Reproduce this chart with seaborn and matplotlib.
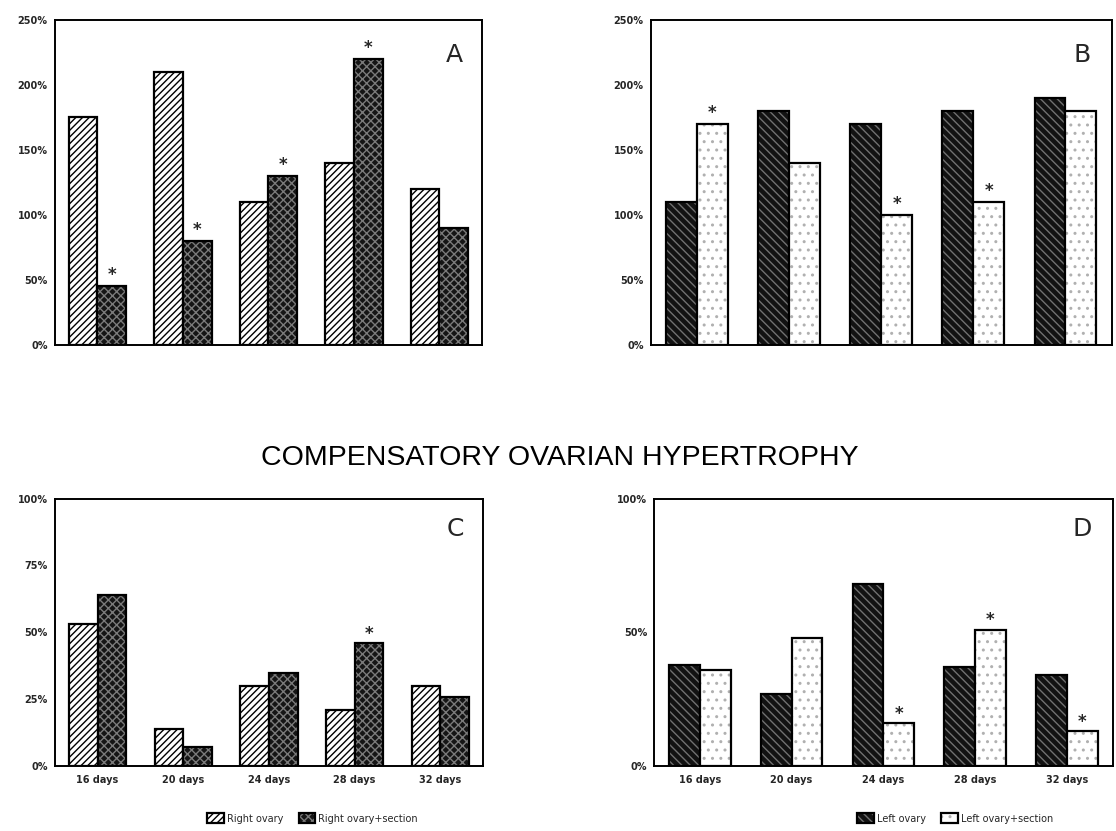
import numpy as np
import pandas as pd
import matplotlib
matplotlib.use("Agg")
import matplotlib.pyplot as plt
import matplotlib.colors as mcolors
import seaborn as sns

days = ["16 days", "20 days", "24 days", "28 days", "32 days"]

# panel A / C : right ovary
a_right = [175, 210, 110, 140, 120]
a_right_sec = [45, 80, 130, 220, 90]
a_star = [1, 1, 1, 1, 0]
c_right = [53, 14, 30, 21, 30]
c_right_sec = [64, 7, 35, 46, 26]
c_star = [0, 0, 0, 1, 0]

# panel B / D : left ovary
b_left = [110, 180, 170, 180, 190]
b_left_sec = [170, 140, 100, 110, 180]
b_star = [1, 0, 1, 1, 0]
d_left = [38, 27, 68, 37, 34]
d_left_sec = [36, 48, 16, 51, 13]
d_star = [0, 0, 1, 1, 1]

right_labels = ["Right ovary", "Right ovary+section"]
left_labels = ["Left ovary", "Left ovary+section"]

a_ticks = [0, 50, 100, 150, 200, 250]
c_ticks = [0, 25, 50, 75, 100]
d_ticks = [0, 50, 100]

sns.set_style("white")
plt.rcParams["font.family"] = ["DejaVu Sans"]
plt.rcParams["hatch.linewidth"] = 1.0

# (face, hatch, hatch colour)
styles = {
    "Right ovary": ("white", "/////", "black"),
    "Right ovary+section": ("#151515", "xxxx", "#7a7a7a"),
    "Left ovary": ("#121212", "\\\\\\\\", "#707070"),
    "Left ovary+section": ("white", "..", "#b0b0b0"),
}


def panel(ax, s1, s2, labels, stars, ticks, letter, xlabels):
    df = pd.DataFrame({
        "day": days * 2,
        "value": s1 + s2,
        "group": [labels[0]] * 5 + [labels[1]] * 5,
    })
    sns.barplot(data=df, x="day", y="value", hue="group", order=days,
                hue_order=labels, width=0.67, legend=False, ax=ax,
                errorbar=None)
    for lab, cont in zip(labels, ax.containers):
        face, hatch, hc = styles[lab]
        for p in cont.patches:
            p.set_facecolor(face)
            p.set_edgecolor("black")
            p.set_linewidth(1.6)
            p.set_hatch(hatch)
            p._hatch_color = mcolors.to_rgba(hc)
    top = ticks[-1]
    for p, s in zip(ax.containers[1].patches, stars):
        if s:
            ax.text(p.get_x() + p.get_width() / 2, p.get_height() + top * 0.035,
                    "*", ha="center", va="center", fontsize=12, fontweight="bold")
    ax.set_xlim(-0.5, 4.5)
    ax.set_ylim(0, top)
    ax.set_yticks(ticks)
    ax.set_yticklabels([f"{t}%" for t in ticks], fontsize=7, fontweight="bold")
    ax.set_xlabel("")
    ax.set_ylabel("")
    if xlabels:
        ax.set_xticks(range(5))
        ax.set_xticklabels(days, fontsize=7, fontweight="bold")
    else:
        ax.set_xticks([])
    ax.tick_params(axis="y", length=3, width=1, direction="out", pad=2)
    ax.tick_params(axis="x", length=0, pad=6)
    for sp in ax.spines.values():
        sp.set_visible(True)
        sp.set_color("black")
        sp.set_linewidth(1.4)
    ax.text(0.955, 0.93, letter, transform=ax.transAxes, ha="right", va="top",
            fontsize=18)


fig = plt.figure(figsize=(11.16, 8.31), dpi=100)
axA = fig.add_axes([0.049, 0.585, 0.383, 0.391])
axB = fig.add_axes([0.583, 0.585, 0.413, 0.391])
axC = fig.add_axes([0.049, 0.078, 0.384, 0.322])
axD = fig.add_axes([0.586, 0.078, 0.411, 0.322])

panel(axA, a_right, a_right_sec, right_labels, a_star, a_ticks, "A", False)
panel(axB, b_left, b_left_sec, left_labels, b_star, a_ticks, "B", False)
panel(axC, c_right, c_right_sec, right_labels, c_star, c_ticks, "C", True)
panel(axD, d_left, d_left_sec, left_labels, d_star, d_ticks, "D", True)

fig.text(0.502, 0.449, "COMPENSATORY OVARIAN HYPERTROPHY", ha="center",
         va="center", fontsize=20.5, color="black",
         family=["Liberation Sans", "DejaVu Sans"])

for ax, labels, xc in [(axC, right_labels, 0.28), (axD, left_labels, 0.856)]:
    handles = [c.patches[0] for c in ax.containers]
    fig.legend(handles, labels, loc="center", bbox_to_anchor=(xc, 0.015),
               ncol=2, frameon=False, fontsize=7, handlelength=1.7,
               handleheight=1.2, columnspacing=1.6, handletextpad=0.3)

fig.savefig("out.png", dpi=100)
